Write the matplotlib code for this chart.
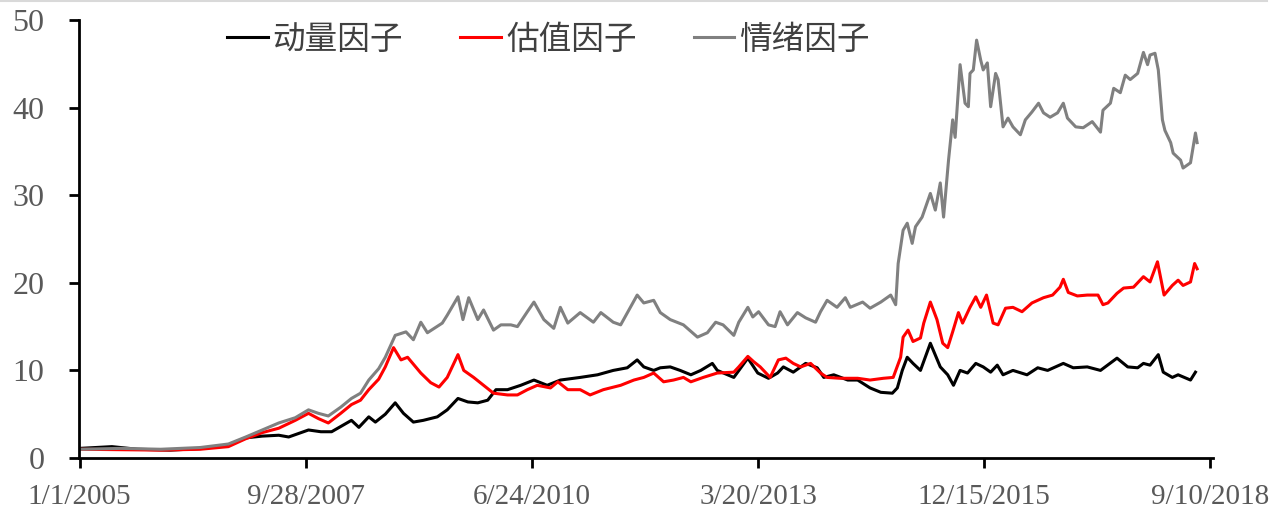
import datetime as dt
import matplotlib
matplotlib.use("Agg")
import matplotlib.pyplot as plt
import numpy as np

# values, x in decimal years
mom_t = [2005.00, 2005.39, 2005.70, 2006.10, 2006.50, 2006.80, 2007.01, 2007.21, 2007.41, 2007.53,
         2007.77, 2007.92, 2008.05, 2008.29, 2008.38, 2008.50, 2008.58, 2008.70, 2008.82, 2008.92,
         2009.04, 2009.16, 2009.33, 2009.45, 2009.58, 2009.70, 2009.82, 2009.94, 2010.04, 2010.18,
         2010.34, 2010.50, 2010.66, 2010.82, 2011.06, 2011.27, 2011.46, 2011.63, 2011.75, 2011.83,
         2011.95, 2012.03, 2012.15, 2012.27, 2012.40, 2012.52, 2012.66, 2012.72, 2012.92, 2013.09,
         2013.21, 2013.34, 2013.45, 2013.52, 2013.64, 2013.79, 2013.93, 2014.01, 2014.13, 2014.30,
         2014.42, 2014.57, 2014.70, 2014.84, 2014.90, 2014.96, 2015.02, 2015.09, 2015.18, 2015.30,
         2015.42, 2015.51, 2015.58, 2015.66, 2015.75, 2015.85, 2015.94, 2016.03, 2016.11, 2016.18,
         2016.30, 2016.47, 2016.60, 2016.72, 2016.91, 2017.03, 2017.20, 2017.36, 2017.56, 2017.69,
         2017.81, 2017.88, 2017.96, 2018.06, 2018.12, 2018.23, 2018.30, 2018.45, 2018.51]
mom_v = [1.1, 1.3, 1.0, 0.9, 1.1, 1.5, 2.3, 2.5, 2.6, 2.4,
         3.2, 3.0, 3.0, 4.3, 3.5, 4.7, 4.1, 5.0, 6.3, 5.1,
         4.1, 4.3, 4.7, 5.5, 6.8, 6.4, 6.3, 6.6, 7.8, 7.8,
         8.3, 8.9, 8.3, 8.9, 9.2, 9.5, 10.0, 10.3, 11.2, 10.4,
         10.0, 10.3, 10.4, 10.0, 9.5, 10.0, 10.8, 10.0, 9.2, 11.4,
         9.7, 9.1, 9.7, 10.4, 9.8, 10.8, 10.3, 9.2, 9.5, 8.9,
         8.9, 8.0, 7.5, 7.4, 8.0, 10.0, 11.5, 10.8, 10.0, 13.1,
         10.4, 9.5, 8.3, 10.0, 9.7, 10.8, 10.4, 9.8, 10.6, 9.5,
         10.0, 9.5, 10.3, 10.0, 10.8, 10.3, 10.4, 10.0, 11.4, 10.4,
         10.3, 10.8, 10.6, 11.8, 9.8, 9.2, 9.5, 8.9, 9.8]

val_t = [2005.00, 2005.50, 2005.98, 2006.46, 2006.80, 2007.01, 2007.21, 2007.41, 2007.61, 2007.77,
         2007.89, 2008.01, 2008.16, 2008.29, 2008.40, 2008.50, 2008.62, 2008.70, 2008.80, 2008.89,
         2008.97, 2009.13, 2009.25, 2009.35, 2009.45, 2009.58, 2009.65, 2009.77, 2009.89, 2010.01,
         2010.18, 2010.30, 2010.42, 2010.54, 2010.70, 2010.79, 2010.91, 2011.06, 2011.18, 2011.34,
         2011.55, 2011.71, 2011.83, 2011.95, 2012.07, 2012.19, 2012.31, 2012.40, 2012.55, 2012.72,
         2012.92, 2012.98, 2013.09, 2013.16, 2013.24, 2013.36, 2013.46, 2013.55, 2013.64, 2013.73,
         2013.85, 2013.97, 2014.05, 2014.21, 2014.42, 2014.57, 2014.73, 2014.85, 2014.94, 2014.97,
         2015.03, 2015.09, 2015.18, 2015.22, 2015.30, 2015.38, 2015.45, 2015.51, 2015.57, 2015.64,
         2015.69, 2015.78, 2015.85, 2015.91, 2015.98, 2016.06, 2016.12, 2016.21, 2016.30, 2016.41,
         2016.53, 2016.67, 2016.78, 2016.87, 2016.91, 2016.97, 2017.08, 2017.20, 2017.33, 2017.39,
         2017.45, 2017.56, 2017.64, 2017.76, 2017.88, 2017.96, 2018.05, 2018.13, 2018.23, 2018.30,
         2018.36, 2018.45, 2018.50, 2018.53]
val_v = [1.0, 0.95, 0.9, 1.0, 1.3, 2.2, 2.9, 3.4, 4.3, 5.1,
         4.5, 4.0, 5.1, 6.1, 6.6, 7.8, 9.0, 10.4, 12.6, 11.2,
         11.5, 9.7, 8.6, 8.1, 9.2, 11.8, 10.0, 9.2, 8.3, 7.4,
         7.2, 7.2, 7.8, 8.3, 8.0, 8.7, 7.8, 7.8, 7.2, 7.8,
         8.3, 8.9, 9.2, 9.7, 8.7, 8.9, 9.2, 8.7, 9.2, 9.7,
         9.8, 10.4, 11.6, 11.0, 10.4, 9.2, 11.2, 11.4, 10.8, 10.4,
         10.8, 9.7, 9.2, 9.1, 9.1, 8.9, 9.1, 9.2, 11.5, 13.8,
         14.6, 13.3, 13.7, 15.4, 17.8, 15.8, 13.1, 12.6, 14.4, 16.6,
         15.4, 17.2, 18.4, 17.2, 18.6, 15.4, 15.2, 17.1, 17.2, 16.7,
         17.7, 18.3, 18.6, 19.5, 20.4, 18.9, 18.5, 18.6, 18.6, 17.5,
         17.7, 18.8, 19.4, 19.5, 20.7, 20.1, 22.4, 18.6, 19.7, 20.3,
         19.7, 20.1, 22.2, 21.6]

sen_t = [2005.00, 2005.50, 2005.98, 2006.46, 2006.80, 2007.01, 2007.21, 2007.41, 2007.61, 2007.77,
         2007.89, 2008.01, 2008.16, 2008.29, 2008.40, 2008.50, 2008.62, 2008.70, 2008.82, 2008.95,
         2009.04, 2009.13, 2009.21, 2009.39, 2009.45, 2009.58, 2009.64, 2009.71, 2009.82, 2009.89,
         2010.01, 2010.10, 2010.22, 2010.30, 2010.42, 2010.50, 2010.62, 2010.74, 2010.82, 2010.91,
         2011.06, 2011.22, 2011.31, 2011.46, 2011.55, 2011.65, 2011.75, 2011.83, 2011.95, 2012.03,
         2012.15, 2012.31, 2012.48, 2012.60, 2012.70, 2012.79, 2012.92, 2012.98, 2013.09, 2013.15,
         2013.22, 2013.34, 2013.42, 2013.48, 2013.57, 2013.69, 2013.79, 2013.91, 2013.97, 2014.05,
         2014.17, 2014.27, 2014.33, 2014.48, 2014.57, 2014.70, 2014.82, 2014.88, 2014.91, 2014.97,
         2015.02, 2015.08, 2015.12, 2015.20, 2015.30, 2015.36, 2015.42, 2015.46, 2015.52, 2015.57,
         2015.60, 2015.66, 2015.72, 2015.76, 2015.78, 2015.82, 2015.86, 2015.91, 2015.94, 2015.99,
         2016.03, 2016.09, 2016.12, 2016.18, 2016.24, 2016.30, 2016.39, 2016.45, 2016.53, 2016.61,
         2016.67, 2016.75, 2016.84, 2016.91, 2016.96, 2017.06, 2017.15, 2017.26, 2017.36, 2017.39,
         2017.48, 2017.52, 2017.60, 2017.66, 2017.72, 2017.81, 2017.88, 2017.93, 2017.96, 2018.02,
         2018.06, 2018.11, 2018.14, 2018.21, 2018.24, 2018.33, 2018.36, 2018.45, 2018.51, 2018.53]
sen_v = [1.0, 1.1, 1.0, 1.2, 1.6, 2.4, 3.2, 4.0, 4.6, 5.5,
         5.1, 4.8, 5.8, 6.8, 7.4, 8.9, 10.2, 11.5, 14.0, 14.4,
         13.5, 15.5, 14.3, 15.4, 16.3, 18.4, 15.8, 18.3, 15.8, 16.9,
         14.6, 15.2, 15.2, 15.0, 16.7, 17.8, 15.8, 14.8, 17.2, 15.4,
         16.6, 15.5, 16.6, 15.5, 15.2, 16.9, 18.6, 17.7, 18.0, 16.6,
         15.8, 15.2, 13.8, 14.3, 15.5, 15.2, 14.0, 15.5, 17.2, 16.1,
         16.7, 15.2, 15.0, 16.7, 15.2, 16.6, 16.0, 15.5, 16.7, 18.0,
         17.2, 18.3, 17.2, 17.8, 17.1, 17.8, 18.6, 17.5, 22.2, 26.0,
         26.8, 24.5, 26.4, 27.5, 30.2, 28.3, 31.4, 27.5, 34.0, 38.6,
         36.6, 44.9, 40.5, 40.1, 43.9, 44.3, 47.7, 45.4, 44.3, 45.1,
         40.1, 43.9, 43.2, 37.8, 38.8, 37.8, 36.9, 38.6, 39.5, 40.5,
         39.4, 38.9, 39.4, 40.5, 38.8, 37.8, 37.7, 38.4, 37.2, 39.7,
         40.5, 42.2, 41.7, 43.7, 43.2, 43.9, 46.3, 44.9, 46.0, 46.2,
         44.3, 38.6, 37.4, 36.0, 34.8, 34.0, 33.1, 33.7, 37.1, 36.0]

names = ["动量因子", "估值因子", "情绪因子"]
colors = ["black", "#FF0000", "#808080"]
tick_labels = ["1/1/2005", "9/28/2007", "6/24/2010", "3/20/2013", "12/15/2015", "9/10/2018"]

start = dt.datetime(2005, 1, 1)


def to_dates(ts):
    return [start + dt.timedelta(days=(t - 2005) * 365.25) for t in ts]


fig = plt.figure(figsize=(12.75, 5.19), dpi=100)
ax = fig.add_axes([0.062, 0.1175, 0.889, 0.844])

for t, v, name, c in zip([mom_t, val_t, sen_t], [mom_v, val_v, sen_v], names, colors):
    ax.plot(to_dates(t), v, color=c, lw=2.2, label=name)

ticks = [start + dt.timedelta(days=1000 * i) for i in range(6)]
ax.set_xticks(ticks)
ax.set_xticklabels(tick_labels)
ax.set_xlim(start - dt.timedelta(days=3), start + dt.timedelta(days=5010))
ax.set_ylim(0, 50)
ax.set_yticks(range(0, 51, 10))

for s in ["top", "right"]:
    ax.spines[s].set_visible(False)
for s in ["left", "bottom"]:
    ax.spines[s].set_linewidth(2)
ax.tick_params(axis="both", direction="out", length=7, width=2, colors="black",
               labelcolor="#595959")
ax.tick_params(axis="x", labelsize=21, pad=12)
ax.tick_params(axis="y", labelsize=23, pad=18)
for lab in ax.get_xticklabels() + ax.get_yticklabels():
    lab.set_family("Liberation Serif")

leg = ax.legend(loc="center", bbox_to_anchor=(0.414, 0.955), ncol=3, frameon=False,
                handlelength=1.25, handletextpad=0.15, columnspacing=1.75,
                prop={"family": ["Noto Sans CJK SC", "DejaVu Sans"], "size": 23.5})
for txt in leg.get_texts():
    txt.set_color("#404040")

fig.add_artist(plt.Line2D([0, 0.994], [0.998, 0.998], color="#d9d9d9", lw=1.5,
                          transform=fig.transFigure))

fig.savefig("out.png", dpi=100)
